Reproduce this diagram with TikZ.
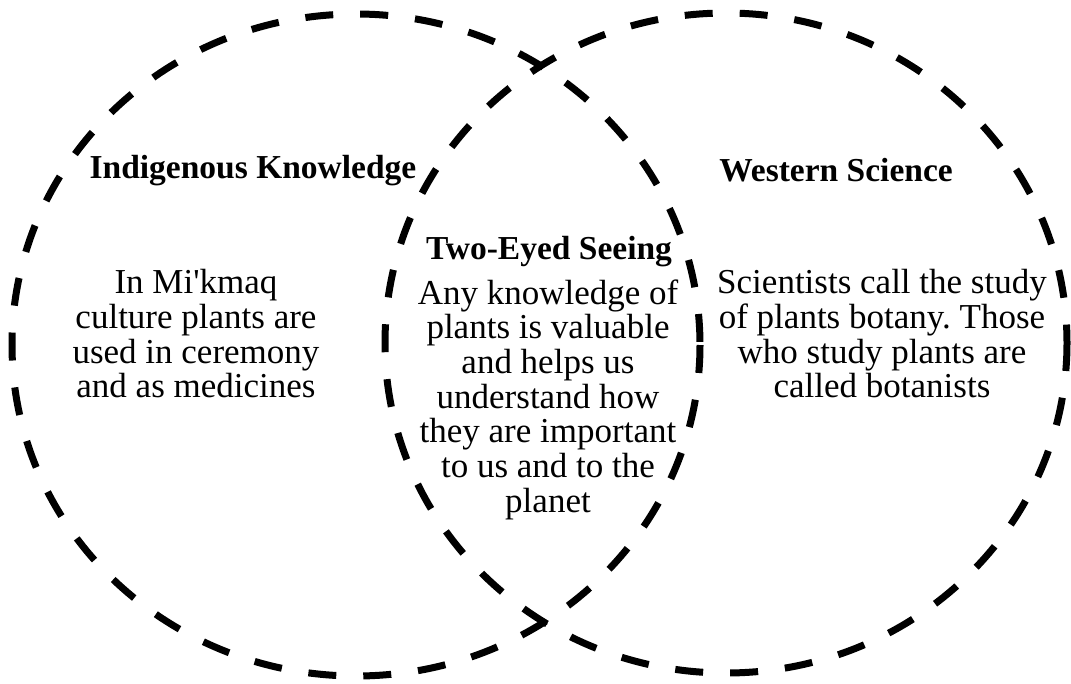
\documentclass[tikz,border=0pt]{standalone}
\usepackage{fontspec}
\setmainfont{Liberation Serif}
\frenchspacing
\begin{document}
\begin{tikzpicture}[x=1pt,y=-1pt,
  ring/.style={line width=7pt, dash pattern=on 28pt off 27pt},
  head/.style={font=\fontsize{33.5}{36}\selectfont\bfseries, anchor=center},
  body/.style={font=\fontsize{35}{34.7}\selectfont, align=center, anchor=north}]
\useasboundingbox (0,0) rectangle (1071,683);
\draw[ring] (356,345) ellipse [x radius=344, y radius=331];
\draw[ring] (726,343) ellipse [x radius=341, y radius=330];
\node[head] (ik) at (253,171) {Indigenous Knowledge};
\node[head] (ws) at (836,170) {Western Science};
\node[head] (te) at (549,252) {Two-Eyed Seeing};
\node[body] (lt) at (196,266) {In Mi\textquotesingle kmaq\\culture plants are\\used in ceremony\\and as medicines};
\node[body] (mt) at (548,276) {Any knowledge of\\plants is valuable\\and helps us\\understand how\\they are important\\to us and to the\\planet};
\node[body] (rt) at (882,266) {Scientists call the study\\of plants botany. Those\\who study plants are\\called botanists};
\end{tikzpicture}
\end{document}
